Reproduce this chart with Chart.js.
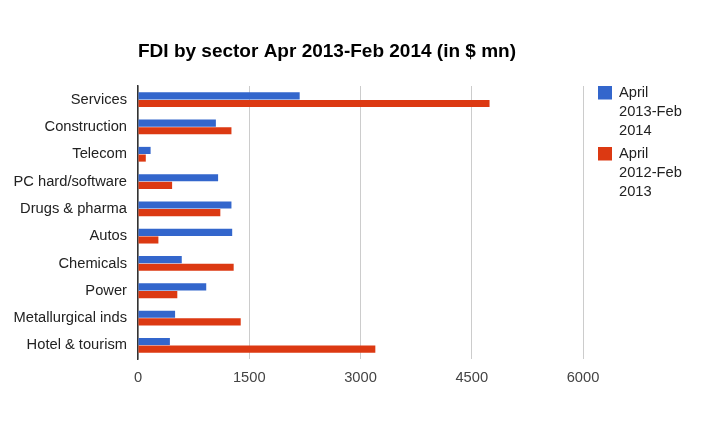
<!DOCTYPE html>
<html>
<head>
<meta charset="utf-8">
<script src="https://cdn.jsdelivr.net/npm/chart.js@4"></script>
<style>
html,body{margin:0;padding:0;background:#fff;}
#wrap{width:720px;height:445px;}
</style>
</head>
<body>
<div id="wrap"><canvas id="c" width="720" height="445"></canvas></div>
<script>
const chartTitle = "FDI by sector Apr 2013-Feb 2014 (in $ mn)";
const categories = ["Services","Construction","Telecom","PC hard/software","Drugs & pharma","Autos","Chemicals","Power","Metallurgical inds","Hotel & tourism"];
const seriesNames = ["April 2013-Feb 2014","April 2012-Feb 2013"];
const series2014 = [2180,1050,170,1080,1260,1270,590,920,500,430];
const series2013 = [4740,1260,105,460,1110,275,1290,530,1385,3200];
const xTicks = [0,1500,3000,4500,6000];
const colors = ["#3366cc","#dc3912"];
const FONT = "'Liberation Sans', Arial, sans-serif";

const titlePlugin = {
  id: 'customTitle',
  afterDraw(chart) {
    const ctx = chart.ctx;
    ctx.save();
    ctx.font = "bold 19px " + FONT;
    ctx.fillStyle = "#000";
    ctx.textBaseline = "middle";
    ctx.textAlign = "left";
    ctx.fillText(chartTitle, chart.chartArea.left, 52);
    ctx.restore();
  }
};

function wrapText(ctx, text, maxW) {
  const words = text.split(' ');
  const lines = [];
  let cur = '';
  for (const w of words) {
    const t = cur ? cur + ' ' + w : w;
    if (ctx.measureText(t).width > maxW && cur) { lines.push(cur); cur = w; }
    else cur = t;
  }
  if (cur) lines.push(cur);
  return lines;
}

const legendPlugin = {
  id: 'customLegend',
  afterDraw(chart) {
    const ctx = chart.ctx;
    ctx.save();
    ctx.font = "14.7px " + FONT;
    ctx.textBaseline = "middle";
    ctx.textAlign = "left";
    const x0 = chart.chartArea.right + 15;
    let y = chart.chartArea.top;
    chart.data.datasets.forEach((ds) => {
      ctx.fillStyle = ds.backgroundColor;
      ctx.fillRect(x0, y, 14, 13.5);
      const lines = wrapText(ctx, ds.label, 90);
      ctx.fillStyle = "#222";
      lines.forEach((ln, i) => {
        ctx.fillText(ln, x0 + 21, y + 7 + i * 19);
      });
      y += lines.length * 19 + 4;
    });
    ctx.restore();
  }
};

new Chart(document.getElementById('c'), {
  type: 'bar',
  data: {
    labels: categories,
    datasets: [
      { label: seriesNames[0], data: series2014, backgroundColor: colors[0], barPercentage: 0.93, categoryPercentage: 0.56 },
      { label: seriesNames[1], data: series2013, backgroundColor: colors[1], barPercentage: 0.93, categoryPercentage: 0.56 }
    ]
  },
  options: {
    indexAxis: 'y',
    responsive: false,
    animation: false,
    devicePixelRatio: 1,
    layout: { padding: { top: 86, right: 137, left: 0, bottom: 0 } },
    plugins: { legend: { display: false }, title: { display: false }, tooltip: { enabled: false } },
    scales: {
      x: {
        min: 0, max: 6000,
        afterBuildTicks(scale) { scale.ticks = xTicks.map(v => ({ value: v })); },
        afterFit(scale) { scale.height = 86; },
        grid: { color: '#cccccc', drawTicks: false, lineWidth: 1 },
        border: { display: false },
        ticks: { padding: 10, color: '#444', font: { family: FONT, size: 14.7 }, callback: (v) => String(v) }
      },
      y: {
        afterFit(scale) { scale.width = 138; },
        grid: { display: false, drawTicks: false },
        border: { display: true, color: '#333', width: 1.5 },
        ticks: { padding: 11, color: '#222', font: { family: FONT, size: 14.7 } }
      }
    }
  },
  plugins: [titlePlugin, legendPlugin]
});
</script>
</body>
</html>
